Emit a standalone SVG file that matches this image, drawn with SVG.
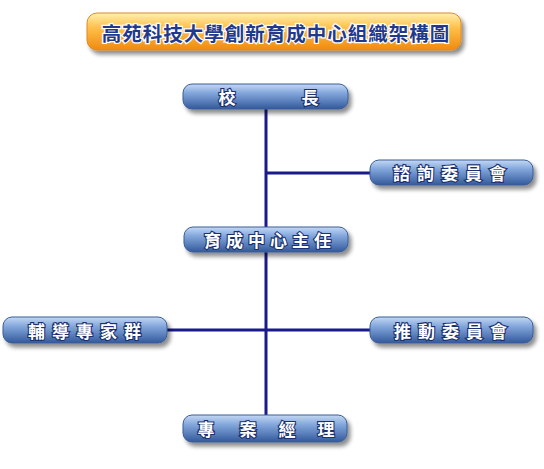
<svg xmlns="http://www.w3.org/2000/svg" width="544" height="469" viewBox="0 0 544 469">
<defs>
<linearGradient id="gBlue" x1="0" y1="0" x2="0" y2="1">
<stop offset="0" stop-color="#c4d8f4"/>
<stop offset="0.35" stop-color="#84a8dc"/>
<stop offset="1" stop-color="#33599c"/>
</linearGradient>
<linearGradient id="gOrange" x1="0" y1="0" x2="0" y2="1">
<stop offset="0" stop-color="#fff0b0"/>
<stop offset="0.4" stop-color="#ffc04a"/>
<stop offset="1" stop-color="#f08a10"/>
</linearGradient>
<filter id="sh" x="-10%" y="-30%" width="130%" height="190%">
<feGaussianBlur in="SourceAlpha" stdDeviation="2"/>
<feOffset dx="3" dy="4" result="b"/>
<feComponentTransfer><feFuncA type="linear" slope="0.45"/></feComponentTransfer>
<feMerge><feMergeNode/><feMergeNode in="SourceGraphic"/></feMerge>
</filter>
</defs>
<style>
.node{fill:url(#gBlue);stroke:#3a5c95;stroke-width:1;filter:url(#sh)}
.t{font-family:"Noto Sans CJK TC","Noto Sans CJK SC",sans-serif;font-size:17px;font-weight:bold;fill:#ffffff;stroke:#1c2f6e;stroke-width:2.2px;paint-order:stroke;text-anchor:middle;dominant-baseline:central}
.title{font-family:"Noto Sans CJK TC","Noto Sans CJK SC",sans-serif;font-size:19.5px;font-weight:bold;fill:#1f3a8c;stroke:#ffffff;stroke-width:2.5px;paint-order:stroke;text-anchor:middle;dominant-baseline:central;letter-spacing:1px}
.line{stroke:#1a1a8a;stroke-width:3;fill:none}
</style>
<rect width="544" height="469" fill="#ffffff"/>
<g id="connectors">
<line class="line" x1="266" y1="108" x2="266" y2="416"/>
<line class="line" x1="266" y1="173" x2="371" y2="173"/>
<line class="line" x1="166" y1="330" x2="371" y2="330"/>
</g>
<g id="title">
<rect x="87" y="13" width="374" height="37" rx="10" fill="url(#gOrange)" stroke="#e08a20" stroke-width="1" filter="url(#sh)"/>
<text class="title" x="276" y="32">高苑科技大學創新育成中心組織架構圖</text>
</g>
<g id="president">
<rect class="node" x="183" y="84" width="165" height="25" rx="9"/>
<text class="t" x="227" y="96.5">校</text>
<text class="t" x="310" y="96.5">長</text>
</g>
<g id="advisory">
<rect class="node" x="370" y="160" width="163" height="25" rx="9"/>
<text class="t" x="453" y="172.5" letter-spacing="7">諮詢委員會</text>
</g>
<g id="director">
<rect class="node" x="184" y="227" width="164" height="25" rx="9"/>
<text class="t" x="270" y="239.5" letter-spacing="5">育成中心主任</text>
</g>
<g id="experts">
<rect class="node" x="3" y="317" width="164" height="26" rx="9"/>
<text class="t" x="88" y="330" letter-spacing="7">輔導專家群</text>
</g>
<g id="promotion">
<rect class="node" x="370" y="317" width="163" height="26" rx="9"/>
<text class="t" x="454" y="330" letter-spacing="7">推動委員會</text>
</g>
<g id="manager">
<rect class="node" x="183" y="415" width="164" height="27" rx="9"/>
<text class="t" x="206" y="428.5">專</text>
<text class="t" x="248" y="428.5">案</text>
<text class="t" x="287" y="428.5">經</text>
<text class="t" x="326" y="428.5">理</text>
</g>
</svg>
